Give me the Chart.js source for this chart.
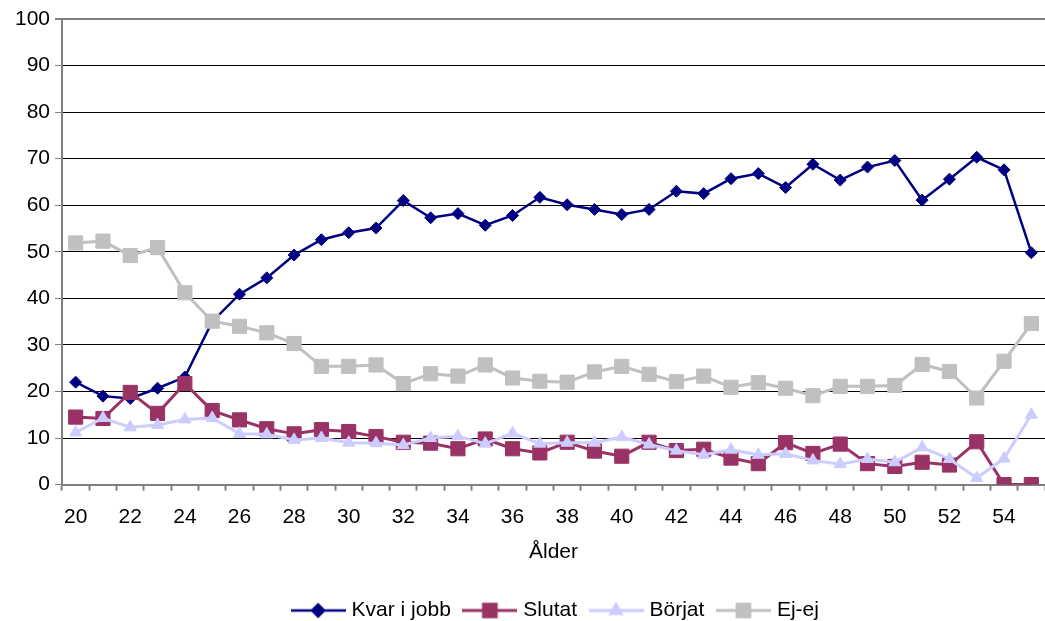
<!DOCTYPE html>
<html>
<head>
<meta charset="utf-8">
<script src="https://cdn.jsdelivr.net/npm/chart.js@4.4.1/dist/chart.umd.min.js"></script>
<style>
  html, body { margin: 0; padding: 0; background: #fff; overflow: hidden; }
  #wrap { position: relative; width: 1056px; height: 621px; }
</style>
</head>
<body>
<div id="wrap"><canvas id="chart"></canvas></div>
<script>
// Ages on the x axis
const ages = [20, 21, 22, 23, 24, 25, 26, 27, 28, 29, 30, 31, 32, 33, 34, 35, 36, 37,
              38, 39, 40, 41, 42, 43, 44, 45, 46, 47, 48, 49, 50, 51, 52, 53, 54, 55];

// Series values (percent)
const kvarIJobb = [22.0, 19.0, 18.5, 20.7, 23.1, 35.0, 40.9, 44.4, 49.3, 52.6, 54.1, 55.1,
                   61.0, 57.3, 58.2, 55.7, 57.8, 61.7, 60.1, 59.1, 58.0, 59.1, 63.0, 62.5,
                   65.7, 66.8, 63.8, 68.8, 65.4, 68.2, 69.6, 61.1, 65.6, 70.3, 67.6, 49.8];
const slutat = [14.5, 14.2, 19.8, 15.3, 21.7, 15.9, 13.9, 12.0, 10.9, 11.8, 11.4, 10.3,
                9.1, 8.9, 7.7, 9.8, 7.7, 6.8, 9.1, 7.2, 6.1, 9.1, 7.3, 7.6,
                5.7, 4.5, 9.0, 6.7, 8.7, 4.5, 3.9, 4.8, 4.2, 9.2, 0, 0];
const borjat = [11.2, 14.3, 12.3, 12.8, 14.0, 14.3, 10.9, 10.8, 9.6, 10.0, 9.0, 8.9,
                8.5, 10.0, 10.4, 8.8, 11.0, 8.8, 9.0, 9.0, 10.2, 8.6, 7.3, 6.4,
                7.5, 6.4, 6.6, 5.2, 4.4, 5.5, 4.8, 8.0, 5.5, 1.4, 5.6, 15.0];
const ejEj = [51.9, 52.3, 49.2, 50.9, 41.2, 35.1, 34.0, 32.6, 30.3, 25.4, 25.4, 25.7,
              21.7, 23.8, 23.3, 25.7, 22.9, 22.2, 22.0, 24.2, 25.4, 23.7, 22.1, 23.3,
              20.9, 21.9, 20.7, 19.1, 21.1, 21.1, 21.3, 25.8, 24.3, 18.6, 26.5, 34.6];

const seriesNames = ['Kvar i jobb', 'Slutat', 'Börjat', 'Ej-ej'];
const yTicks = [0, 10, 20, 30, 40, 50, 60, 70, 80, 90, 100];

const FONT = 'Liberation Sans, Arial, sans-serif';
const FSIZE = 21;

// legend symbol: short line with the marker on top
function legendSymbol(color, style, radius, lineWidth) {
    const c = document.createElement('canvas');
    c.width = 55; c.height = 18;
    const ctx = c.getContext('2d');
    ctx.strokeStyle = color;
    ctx.lineWidth = lineWidth;
    ctx.beginPath();
    ctx.moveTo(0, 9); ctx.lineTo(55, 9);
    ctx.stroke();
    Chart.helpers.drawPoint(ctx, {
        pointStyle: style, radius: radius, borderWidth: 1, rotation: 0
    }, 27.5, 9);
    ctx.fillStyle = color;
    ctx.fill();
    return c;
}

function makeSet(label, data, color, style, radius, lineWidth, order) {
    return {
        label: label,
        data: data,
        borderColor: color,
        backgroundColor: color,
        borderWidth: lineWidth,
        pointStyle: style,
        pointRadius: radius,
        pointHoverRadius: radius,
        pointBorderWidth: 1,
        pointBorderColor: color,
        pointBackgroundColor: color,
        tension: 0,
        order: order
    };
}

// nudge the legend to where the original puts it
const legendShift = {
    id: 'legendShift',
    afterLayout(chart) {
        const lg = chart.legend;
        if (!lg) return;
        lg.left += 29; lg.right += 29;
        lg.top += 10; lg.bottom += 10;
    }
};

const ctx = document.getElementById('chart').getContext('2d');
const datasets = [
    makeSet(seriesNames[0], kvarIJobb, '#000080', 'rectRot', 6, 2.5, 4),
    makeSet(seriesNames[1], slutat, '#993366', 'rect', 10, 3, 3),
    makeSet(seriesNames[2], borjat, '#CCCCFF', 'triangle', 7, 3, 2),
    makeSet(seriesNames[3], ejEj, '#C0C0C0', 'rect', 10, 3, 1)
];

new Chart(ctx, {
    type: 'line',
    data: { labels: ages, datasets: datasets },
    plugins: [legendShift],
    options: {
        responsive: true,
        maintainAspectRatio: false,
        animation: false,
        layout: { padding: { top: 19, right: 0, left: 0, bottom: 0 } },
        plugins: {
            tooltip: { enabled: false },
            legend: {
                position: 'bottom',
                labels: {
                    usePointStyle: true,
                    pointStyleWidth: 46,
                    padding: 16,
                    color: '#000',
                    font: { family: FONT, size: FSIZE },
                    generateLabels: function (chart) {
                        return chart.data.datasets.map((ds, i) => ({
                            text: ds.label,
                            datasetIndex: i,
                            fontColor: '#000',
                            hidden: false,
                            lineWidth: 0,
                            strokeStyle: 'transparent',
                            fillStyle: 'transparent',
                            pointStyle: legendSymbol(ds.borderColor, ds.pointStyle,
                                ds.pointStyle === 'rect' ? 9 : (ds.pointStyle === 'triangle' ? 6 : 6),
                                ds.borderWidth)
                        }));
                    }
                }
            }
        },
        scales: {
            x: {
                type: 'category',
                offset: true,
                grid: {
                    offset: true,
                    drawOnChartArea: false,
                    drawTicks: true,
                    tickLength: 6,
                    tickColor: '#808080',
                    tickWidth: 2
                },
                border: { color: '#808080', width: 2 },
                ticks: {
                    autoSkip: false,
                    maxRotation: 0,
                    padding: 14,
                    color: '#000',
                    font: { family: FONT, size: FSIZE },
                    callback: function (value, index) {
                        return index % 2 === 0 ? String(ages[index]) : '';
                    }
                },
                title: {
                    display: true,
                    text: 'Ålder',
                    color: '#000',
                    font: { family: FONT, size: FSIZE },
                    padding: { top: -4, bottom: 9 }
                }
            },
            y: {
                min: 0,
                max: 100,
                afterBuildTicks: function (scale) {
                    scale.ticks = yTicks.map(v => ({ value: v }));
                },
                afterFit: function (scale) {
                    scale.width = 62;
                },
                grid: {
                    color: function (c) {
                        return c.tick && c.tick.value === 100 ? '#808080' : '#000';
                    },
                    lineWidth: function (c) {
                        return c.tick && c.tick.value === 100 ? 2 : 1;
                    },
                    tickLength: 7,
                    tickColor: '#808080'
                },
                border: { color: '#808080', width: 2 },
                ticks: {
                    padding: 5,
                    color: '#000',
                    font: { family: FONT, size: FSIZE }
                }
            }
        }
    }
});
</script>
</body>
</html>
